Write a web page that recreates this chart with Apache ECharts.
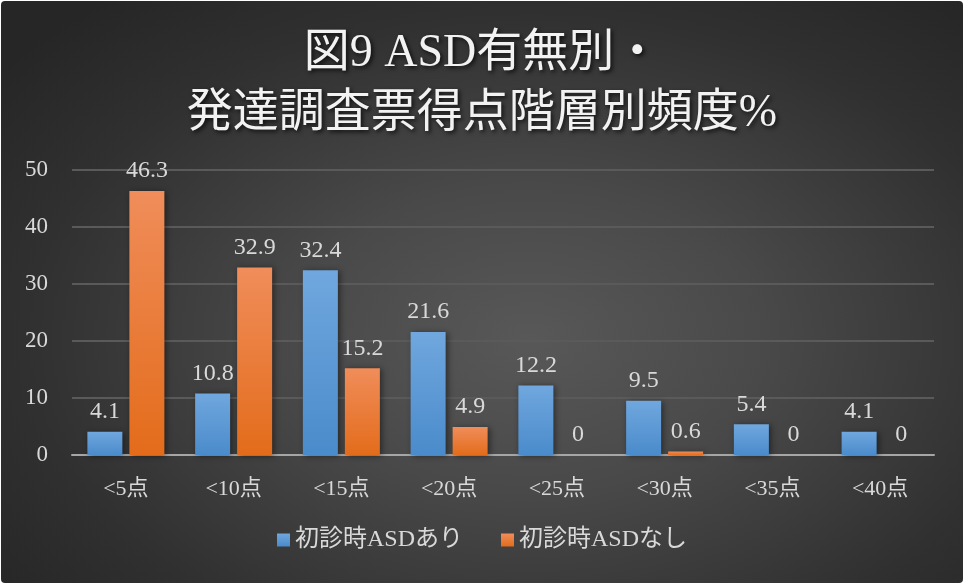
<!DOCTYPE html>
<html>
<head>
<meta charset="utf-8">
<script src="https://cdn.jsdelivr.net/npm/echarts@6/dist/echarts.min.js"></script>
<style>
  html, body { margin: 0; padding: 0; background: #ffffff; }
  #chart {
    width: 962px; height: 582px; margin: 1px;
    border-radius: 4px;
    background: radial-gradient(ellipse 70% 75% at 55% 58%, #585858 0%, #494949 35%, #303030 75%, #262626 100%);
  }
</style>
</head>
<body>
<div id="chart"></div>
<script>
// Score bands of the developmental questionnaire
const categories = ['<5点', '<10点', '<15点', '<20点', '<25点', '<30点', '<35点', '<40点'];
// Share of children (%) in each band
const withASD = [4.1, 10.8, 32.4, 21.6, 12.2, 9.5, 5.4, 4.1];
const withoutASD = [46.3, 32.9, 15.2, 4.9, 0, 0.6, 0, 0];
const seriesNames = ['初診時ASDあり', '初診時ASDなし'];
const yTicks = { min: 0, max: 50, interval: 10 };

const serif = 'Liberation Serif, Noto Sans CJK JP, serif';
const textColor = '#d9d9d9';

const chart = echarts.init(document.getElementById('chart'));

function barGradient(top, bottom) {
  return new echarts.graphic.LinearGradient(0, 0, 0, 1, [
    { offset: 0, color: top },
    { offset: 1, color: bottom }
  ]);
}

const labelStyle = {
  show: true,
  position: 'top',
  distance: 8,
  color: textColor,
  fontFamily: serif,
  fontSize: 24
};

chart.setOption({
  backgroundColor: 'transparent',
  title: {
    text: '図9 ASD有無別・\n発達調査票得点階層別頻度%',
    left: 'center',
    top: 18,
    textStyle: {
      color: '#f2f2f2',
      fontFamily: serif,
      fontSize: 46,
      fontWeight: 'normal',
      lineHeight: 60,
      textShadowColor: 'rgba(0,0,0,0.75)',
      textShadowBlur: 4,
      textShadowOffsetX: 2,
      textShadowOffsetY: 2
    }
  },
  legend: {
    data: seriesNames,
    bottom: 26,
    left: 'center',
    icon: 'rect',
    itemWidth: 13,
    itemHeight: 13,
    itemGap: 38,
    textStyle: { color: textColor, fontFamily: serif, fontSize: 24 }
  },
  grid: { left: 71, right: 29, top: 169, bottom: 128 },
  xAxis: {
    type: 'category',
    data: categories,
    axisLine: { lineStyle: { color: '#a6a6a6', width: 2 } },
    axisTick: { show: false },
    axisLabel: { color: textColor, fontFamily: serif, fontSize: 22, margin: 23 }
  },
  yAxis: {
    type: 'value',
    min: yTicks.min,
    max: yTicks.max,
    interval: yTicks.interval,
    axisLine: { show: false },
    axisTick: { show: false },
    axisLabel: { color: textColor, fontFamily: serif, fontSize: 23, margin: 24 },
    splitLine: { lineStyle: { color: '#5a5a5a', width: 2 } }
  },
  series: [
    {
      name: seriesNames[0],
      type: 'bar',
      data: withASD,
      barWidth: 35,
      barGap: '20%',
      itemStyle: {
        color: barGradient('#70a7de', '#4a8bcb'),
        shadowColor: 'rgba(0,0,0,0.45)',
        shadowBlur: 6,
        shadowOffsetX: 2,
        shadowOffsetY: 1
      },
      label: labelStyle
    },
    {
      name: seriesNames[1],
      type: 'bar',
      data: withoutASD,
      barWidth: 35,
      itemStyle: {
        color: barGradient('#f08d5a', '#e36c1b'),
        shadowColor: 'rgba(0,0,0,0.45)',
        shadowBlur: 6,
        shadowOffsetX: 2,
        shadowOffsetY: 1
      },
      label: labelStyle
    }
  ]
});
</script>
</body>
</html>
